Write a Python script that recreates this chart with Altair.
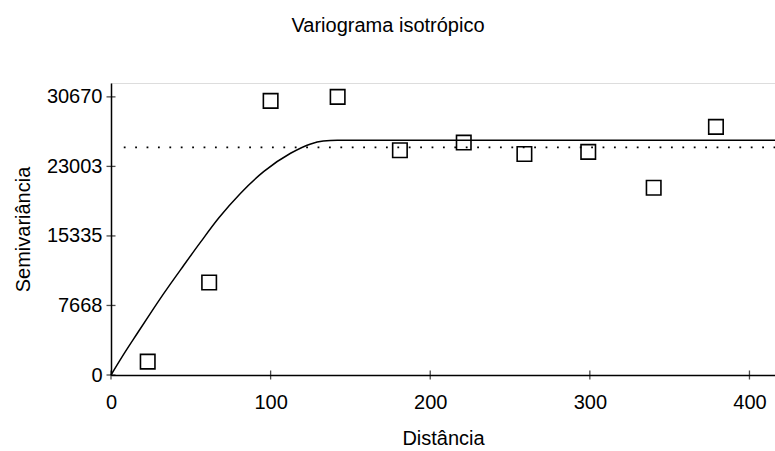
import altair as alt
import pandas as pd

# Experimental variogram (lag distance, semivariance)
lag_dist = [23, 61.5, 100, 142, 181, 221, 259, 299, 340, 379]
semivar = [1470, 10200, 30230, 30670, 24780, 25630, 24370, 24600, 20650, 27360]

# Fitted model curve
model_x = [0, 8, 16.3, 24.7, 33.1, 45.6, 56.1, 67.6, 81.2, 95.8, 112.5, 125.1, 133, 141.8, 416]
model_y = [0, 2300, 4550, 6800, 9000, 12100, 14650, 17330, 20050, 22450, 24450, 25480, 25800, 25900, 25900]

# Sample variance (dotted line)
var_x = [8, 416]
var_y = [25100, 25100]

x_ticks = [0, 100, 200, 300, 400]
y_ticks = [0, 7668, 15335, 23003, 30670]

FONT = "Liberation Sans"
FS = 20

pts = pd.DataFrame({"x": lag_dist, "y": semivar})
model = pd.DataFrame({"x": model_x, "y": model_y})
var = pd.DataFrame({"x": var_x, "y": var_y})
xt = pd.DataFrame({"x": x_ticks, "y": [0] * len(x_ticks)})
yt = pd.DataFrame({"x": [0] * len(y_ticks), "y": y_ticks})

xscale = alt.Scale(domain=[0, 416], nice=False, zero=False)
yscale = alt.Scale(domain=[0, 32200], nice=False, zero=False)

xaxis = alt.Axis(values=x_ticks, title="Distância", ticks=False, grid=False, format="d",
                 labelFlush=False, labelOverlap=False,
                 labelPadding=17, titlePadding=16, domainColor="black", domainWidth=1.5,
                 labelFont=FONT, labelFontSize=FS, titleFont=FONT, titleFontSize=FS,
                 titleFontWeight="normal", labelColor="black", titleColor="black")
yaxis = alt.Axis(values=y_ticks, title="Semivariância", ticks=False, grid=False, format="d",
                 labelFlush=False, labelOverlap=False,
                 labelPadding=9, titlePadding=13, domainColor="black", domainWidth=1.5,
                 labelFont=FONT, labelFontSize=FS, titleFont=FONT, titleFontSize=FS,
                 titleFontWeight="normal", labelColor="black", titleColor="black")

base_points = alt.Chart(pts).mark_point(
    shape="square", filled=False, size=210, color="black", strokeWidth=1.6, opacity=1
).encode(
    x=alt.X("x:Q", scale=xscale, axis=xaxis),
    y=alt.Y("y:Q", scale=yscale, axis=yaxis),
)

model_line = alt.Chart(model).mark_line(
    color="black", strokeWidth=1.5, interpolate="monotone"
).encode(x=alt.X("x:Q", scale=xscale), y=alt.Y("y:Q", scale=yscale))

var_line = alt.Chart(var).mark_line(
    color="black", strokeWidth=1.8, strokeDash=[1.8, 9.6], strokeCap="butt"
).encode(x=alt.X("x:Q", scale=xscale), y=alt.Y("y:Q", scale=yscale))

x_tick_marks = alt.Chart(xt).mark_tick(
    orient="vertical", color="black", size=9, thickness=1.3
).encode(x=alt.X("x:Q", scale=xscale), y=alt.Y("y:Q", scale=yscale))

y_tick_marks = alt.Chart(yt).mark_tick(
    orient="horizontal", color="black", size=9, thickness=1.3
).encode(x=alt.X("x:Q", scale=xscale), y=alt.Y("y:Q", scale=yscale))

chart = alt.layer(
    var_line, model_line, base_points, x_tick_marks, y_tick_marks
).properties(
    width=664,
    height=292,
    title=alt.TitleParams("Variograma isotrópico", font=FONT, fontSize=FS,
                          fontWeight="normal", color="black", anchor="middle",
                          dx=-55, offset=47),
    autosize=alt.AutoSizeParams(type="none"),
    padding={"left": 111, "top": 83, "right": 0, "bottom": 76},
).configure_view(stroke=None, clip=False).configure(background="white")

chart.save("out.html", embed_options={"renderer": "svg", "actions": False})
